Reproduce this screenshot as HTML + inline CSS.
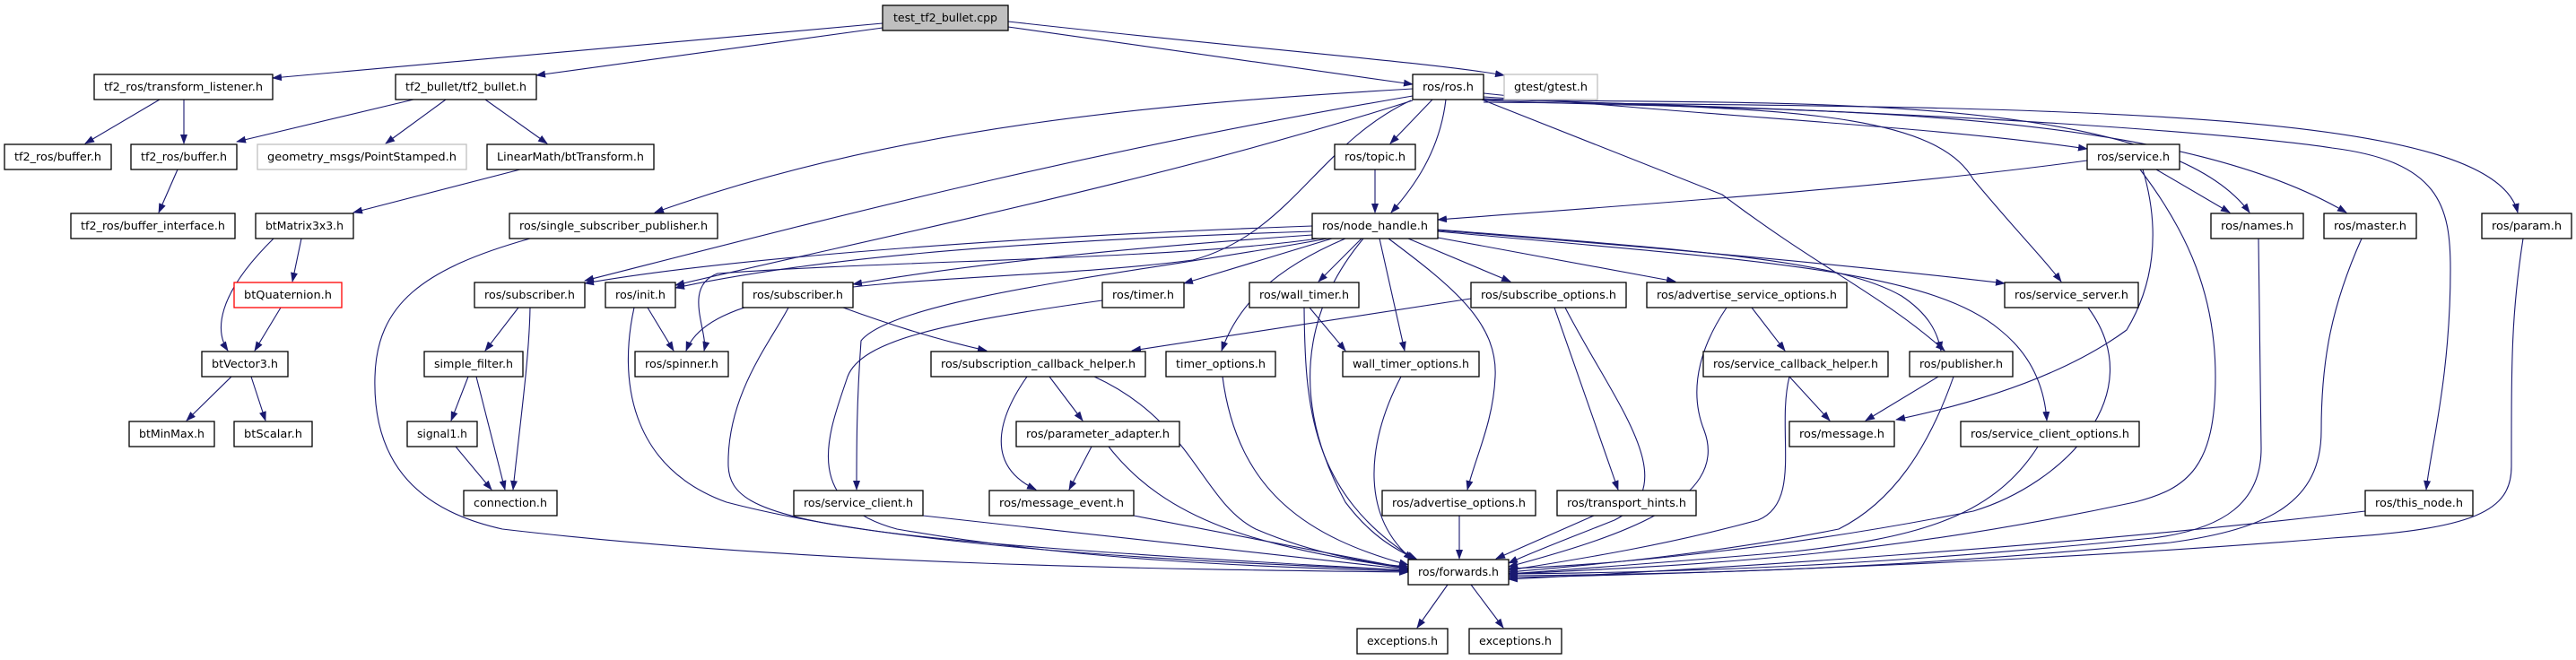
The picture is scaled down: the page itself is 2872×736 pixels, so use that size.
<!DOCTYPE html>
<html><head><meta charset="utf-8"><style>
html,body{margin:0;padding:0;background:#fff;width:2872px;height:736px;overflow:hidden}
svg text{font-family:"DejaVu Sans","Liberation Sans",sans-serif;font-size:12px;fill:#000}
</style></head><body>
<svg width="2872" height="736" viewBox="0 0 2872 736" xmlns="http://www.w3.org/2000/svg">
<defs><marker id="a" markerWidth="11" markerHeight="8" refX="10" refY="4" orient="auto" markerUnits="userSpaceOnUse"><path d="M0,0 L11,4 L0,8z" fill="#191970"/></marker></defs>
<g fill="none" stroke="#191970" stroke-width="1.1" marker-end="url(#a)">
<path d="M984,26 L304,87"/>
<path d="M984,31 L598,84"/>
<path d="M1124,30 L1575,94"/>
<path d="M1124,24 C1400,55 1600,70 1677,84"/>
<path d="M178,111 L95,160"/>
<path d="M205,111 L205,160"/>
<path d="M461,111 L264,158"/>
<path d="M497,111 L430,160"/>
<path d="M541,111 L610,160"/>
<path d="M198,189 L177,237"/>
<path d="M580,189 L394,237"/>
<path d="M336,266 L326,314"/>
<path d="M305,266 C240,330 240,370 254,391"/>
<path d="M313,343 L284,391"/>
<path d="M258,420 L208,469"/>
<path d="M280,420 L296,469"/>
<path d="M1575,99 C1300,115 1000,140 730,237"/>
<path d="M1575,107 C1200,170 900,250 652,313"/>
<path d="M1575,112 C1300,200 1000,260 753,318"/>
<path d="M1573,112 C1470,160 1440,260 1330,290 C1100,320 800,300 765,391"/>
<path d="M1597,111 L1550,160"/>
<path d="M1612,111 C1605,170 1575,210 1551,237"/>
<path d="M1533,189 L1533,237"/>
<path d="M1654,104 C1900,130 2150,140 2327,166"/>
<path d="M1654,110 C1900,120 2400,90 2508,237"/>
<path d="M1654,112 C1950,125 2400,110 2616,237"/>
<path d="M1654,114 C2300,120 2780,120 2807,237"/>
<path d="M1654,111 C2200,125 2500,150 2600,165 C2720,180 2732,230 2732,300 C2732,420 2710,500 2705,546"/>
<path d="M1654,108 C1900,125 2150,110 2200,200 C2250,260 2280,290 2298,314"/>
<path d="M1652,111 L1920,217 C2030,300 2100,330 2168,391"/>
<path d="M2327,179 C2100,210 1800,230 1603,245"/>
<path d="M2404,189 L2486,237"/>
<path d="M2389,189 C2410,260 2400,320 2371,368 C2300,420 2200,450 2114,468"/>
<path d="M2386,189 C2440,260 2470,330 2470,420 C2470,520 2440,545 2380,560 C2100,620 1900,630 1682,640"/>
<path d="M2518,266 L2521,500 C2521,560 2480,590 2400,600 C2100,630 1900,638 1682,640"/>
<path d="M2633,266 C2600,340 2588,400 2588,480 C2588,560 2530,590 2420,605 C2100,635 1900,640 1682,642"/>
<path d="M2813,266 C2800,350 2800,400 2800,520 C2800,570 2760,590 2600,600 C2300,625 1900,640 1682,644"/>
<path d="M2637,570 C2300,610 1900,635 1682,646"/>
<path d="M1463,252 C1100,265 800,290 652,316"/>
<path d="M1463,258 C1100,270 900,290 753,321"/>
<path d="M1463,262 C1200,280 1050,300 951,317"/>
<path d="M1470,266 C1300,290 1000,290 800,305 C760,320 790,370 785,391"/>
<path d="M1485,266 L1320,316"/>
<path d="M1518,266 L1470,314"/>
<path d="M1500,266 C1420,300 1380,340 1362,391"/>
<path d="M1538,266 L1566,391"/>
<path d="M1548,266 C1620,320 1670,360 1667,420 C1665,470 1645,510 1636,546"/>
<path d="M1570,266 L1684,314"/>
<path d="M1603,265 L1868,314"/>
<path d="M1603,257 C1900,280 2100,300 2235,316"/>
<path d="M1603,258 C1950,290 2150,300 2230,368 C2270,400 2280,440 2282,469"/>
<path d="M1603,256 C1900,280 2050,290 2120,330 C2150,350 2160,370 2164,391"/>
<path d="M1480,266 C1300,300 1000,330 960,380 C955,450 955,500 955,546"/>
<path d="M1520,266 C1450,350 1440,450 1500,560 C1530,600 1560,615 1580,624"/>
<path d="M578,343 L541,391"/>
<path d="M591,343 C590,400 580,470 572,546"/>
<path d="M522,420 L503,469"/>
<path d="M531,420 L563,546"/>
<path d="M508,498 L548,546"/>
<path d="M722,343 L751,391"/>
<path d="M707,343 C690,420 700,520 810,560 C1000,610 1300,625 1570,636"/>
<path d="M591,266 C470,300 420,340 418,420 C415,520 470,570 560,590 C900,630 1300,635 1570,638"/>
<path d="M940,343 C1000,365 1050,380 1100,391"/>
<path d="M879,343 C860,380 810,440 812,520 C815,580 900,600 1570,636"/>
<path d="M1229,335 C1050,360 960,380 945,420 C925,480 890,560 1000,590 C1200,625 1400,632 1570,637"/>
<path d="M1460,343 L1500,391"/>
<path d="M1454,343 C1455,450 1460,550 1578,624"/>
<path d="M1640,333 L1262,391"/>
<path d="M1733,343 L1804,546"/>
<path d="M1745,343 C1800,450 1880,540 1800,580 C1750,600 1710,615 1682,628"/>
<path d="M1953,343 L1990,391"/>
<path d="M1925,343 C1900,380 1880,430 1900,480 C1930,560 1800,600 1682,632"/>
<path d="M2328,343 C2400,440 2300,540 2200,570 C2000,610 1800,630 1682,634"/>
<path d="M1995,420 L2040,469"/>
<path d="M1995,420 C1980,480 2010,560 1960,580 C1850,610 1750,625 1682,636"/>
<path d="M2161,420 L2080,469"/>
<path d="M2178,420 C2150,500 2110,560 2050,590 C1900,620 1750,632 1682,638"/>
<path d="M2272,498 C2220,580 2130,600 2000,615 C1850,628 1750,635 1682,640"/>
<path d="M1170,420 L1207,469"/>
<path d="M1145,420 C1110,470 1100,520 1155,546"/>
<path d="M1220,420 C1330,470 1340,560 1400,590 C1470,620 1540,630 1570,632"/>
<path d="M1217,498 L1192,546"/>
<path d="M1236,498 C1300,580 1400,610 1570,634"/>
<path d="M1264,575 L1570,634"/>
<path d="M1029,575 L1570,635"/>
<path d="M1363,420 C1380,550 1460,600 1570,630"/>
<path d="M1562,420 C1520,500 1520,580 1575,624"/>
<path d="M1627,575 L1627,623"/>
<path d="M1777,575 L1668,623"/>
<path d="M1614,652 L1580,700"/>
<path d="M1640,652 L1676,700"/>
</g>
<g stroke="#000" stroke-width="1.3" fill="#fff">
<rect x="984" y="6" width="140" height="28" fill="#bfbfbf"/>
<rect x="105" y="83" width="199" height="28"/>
<rect x="441" y="83" width="157" height="28"/>
<rect x="1575" y="83" width="79" height="28"/>
<rect x="1677" y="83" width="104" height="28" stroke="#bfbfbf"/>
<rect x="5" y="161" width="119" height="28"/>
<rect x="146" y="161" width="118" height="28"/>
<rect x="287" y="161" width="233" height="28" stroke="#bfbfbf"/>
<rect x="543" y="161" width="186" height="28"/>
<rect x="1488" y="161" width="90" height="28"/>
<rect x="2327" y="161" width="103" height="28"/>
<rect x="79" y="238" width="183" height="28"/>
<rect x="285" y="238" width="109" height="28"/>
<rect x="568" y="238" width="232" height="28"/>
<rect x="1463" y="238" width="140" height="28"/>
<rect x="2465" y="238" width="103" height="28"/>
<rect x="2591" y="238" width="103" height="28"/>
<rect x="2767" y="238" width="100" height="28"/>
<rect x="261" y="315" width="120" height="28" stroke="#f00"/>
<rect x="529" y="315" width="123" height="28"/>
<rect x="675" y="315" width="78" height="28"/>
<rect x="828" y="315" width="123" height="28"/>
<rect x="1229" y="315" width="91" height="28"/>
<rect x="1393" y="315" width="122" height="28"/>
<rect x="1640" y="315" width="173" height="28"/>
<rect x="1836" y="315" width="223" height="28"/>
<rect x="2235" y="315" width="149" height="28"/>
<rect x="225" y="392" width="96" height="28"/>
<rect x="473" y="392" width="110" height="28"/>
<rect x="708" y="392" width="104" height="28"/>
<rect x="1038" y="392" width="239" height="28"/>
<rect x="1300" y="392" width="122" height="28"/>
<rect x="1497" y="392" width="152" height="28"/>
<rect x="1899" y="392" width="206" height="28"/>
<rect x="2129" y="392" width="115" height="28"/>
<rect x="144" y="470" width="95" height="28"/>
<rect x="261" y="470" width="87" height="28"/>
<rect x="454" y="470" width="78" height="28"/>
<rect x="1133" y="470" width="182" height="28"/>
<rect x="1995" y="470" width="117" height="28"/>
<rect x="2186" y="470" width="199" height="28"/>
<rect x="517" y="547" width="104" height="28"/>
<rect x="885" y="547" width="144" height="28"/>
<rect x="1103" y="547" width="161" height="28"/>
<rect x="1541" y="547" width="171" height="28"/>
<rect x="1736" y="547" width="155" height="28"/>
<rect x="2637" y="547" width="120" height="28"/>
<rect x="1570" y="624" width="112" height="28"/>
<rect x="1513" y="701" width="101" height="28"/>
<rect x="1638" y="701" width="103" height="28"/>
</g>
<g text-anchor="middle" lengthAdjust="spacingAndGlyphs">
<text x="1054" y="24" textLength="116" lengthAdjust="spacingAndGlyphs">test_tf2_bullet.cpp</text>
<text x="204.5" y="101" textLength="177" lengthAdjust="spacingAndGlyphs">tf2_ros/transform_listener.h</text>
<text x="519.5" y="101" textLength="135" lengthAdjust="spacingAndGlyphs">tf2_bullet/tf2_bullet.h</text>
<text x="1614.5" y="101" textLength="57" lengthAdjust="spacingAndGlyphs">ros/ros.h</text>
<text x="1729" y="101" textLength="82" lengthAdjust="spacingAndGlyphs">gtest/gtest.h</text>
<text x="64.5" y="179" textLength="97" lengthAdjust="spacingAndGlyphs">tf2_ros/buffer.h</text>
<text x="205" y="179" textLength="96" lengthAdjust="spacingAndGlyphs">tf2_ros/buffer.h</text>
<text x="403.5" y="179" textLength="211" lengthAdjust="spacingAndGlyphs">geometry_msgs/PointStamped.h</text>
<text x="636" y="179" textLength="164" lengthAdjust="spacingAndGlyphs">LinearMath/btTransform.h</text>
<text x="1533" y="179" textLength="68" lengthAdjust="spacingAndGlyphs">ros/topic.h</text>
<text x="2378.5" y="179" textLength="81" lengthAdjust="spacingAndGlyphs">ros/service.h</text>
<text x="170.5" y="256" textLength="161" lengthAdjust="spacingAndGlyphs">tf2_ros/buffer_interface.h</text>
<text x="339.5" y="256" textLength="87" lengthAdjust="spacingAndGlyphs">btMatrix3x3.h</text>
<text x="684" y="256" textLength="210" lengthAdjust="spacingAndGlyphs">ros/single_subscriber_publisher.h</text>
<text x="1533" y="256" textLength="118" lengthAdjust="spacingAndGlyphs">ros/node_handle.h</text>
<text x="2516.5" y="256" textLength="81" lengthAdjust="spacingAndGlyphs">ros/names.h</text>
<text x="2642.5" y="256" textLength="81" lengthAdjust="spacingAndGlyphs">ros/master.h</text>
<text x="2817" y="256" textLength="78" lengthAdjust="spacingAndGlyphs">ros/param.h</text>
<text x="321" y="333" textLength="98" lengthAdjust="spacingAndGlyphs">btQuaternion.h</text>
<text x="590.5" y="333" textLength="101" lengthAdjust="spacingAndGlyphs">ros/subscriber.h</text>
<text x="714" y="333" textLength="56" lengthAdjust="spacingAndGlyphs">ros/init.h</text>
<text x="889.5" y="333" textLength="101" lengthAdjust="spacingAndGlyphs">ros/subscriber.h</text>
<text x="1274.5" y="333" textLength="69" lengthAdjust="spacingAndGlyphs">ros/timer.h</text>
<text x="1454" y="333" textLength="100" lengthAdjust="spacingAndGlyphs">ros/wall_timer.h</text>
<text x="1726.5" y="333" textLength="151" lengthAdjust="spacingAndGlyphs">ros/subscribe_options.h</text>
<text x="1947.5" y="333" textLength="201" lengthAdjust="spacingAndGlyphs">ros/advertise_service_options.h</text>
<text x="2309.5" y="333" textLength="127" lengthAdjust="spacingAndGlyphs">ros/service_server.h</text>
<text x="273" y="410" textLength="74" lengthAdjust="spacingAndGlyphs">btVector3.h</text>
<text x="528" y="410" textLength="88" lengthAdjust="spacingAndGlyphs">simple_filter.h</text>
<text x="760" y="410" textLength="82" lengthAdjust="spacingAndGlyphs">ros/spinner.h</text>
<text x="1157.5" y="410" textLength="217" lengthAdjust="spacingAndGlyphs">ros/subscription_callback_helper.h</text>
<text x="1361" y="410" textLength="100" lengthAdjust="spacingAndGlyphs">timer_options.h</text>
<text x="1573" y="410" textLength="130" lengthAdjust="spacingAndGlyphs">wall_timer_options.h</text>
<text x="2002" y="410" textLength="184" lengthAdjust="spacingAndGlyphs">ros/service_callback_helper.h</text>
<text x="2186.5" y="410" textLength="93" lengthAdjust="spacingAndGlyphs">ros/publisher.h</text>
<text x="191.5" y="488" textLength="73" lengthAdjust="spacingAndGlyphs">btMinMax.h</text>
<text x="304.5" y="488" textLength="65" lengthAdjust="spacingAndGlyphs">btScalar.h</text>
<text x="493" y="488" textLength="56" lengthAdjust="spacingAndGlyphs">signal1.h</text>
<text x="1224" y="488" textLength="160" lengthAdjust="spacingAndGlyphs">ros/parameter_adapter.h</text>
<text x="2053.5" y="488" textLength="95" lengthAdjust="spacingAndGlyphs">ros/message.h</text>
<text x="2285.5" y="488" textLength="177" lengthAdjust="spacingAndGlyphs">ros/service_client_options.h</text>
<text x="569" y="565" textLength="82" lengthAdjust="spacingAndGlyphs">connection.h</text>
<text x="957" y="565" textLength="122" lengthAdjust="spacingAndGlyphs">ros/service_client.h</text>
<text x="1183.5" y="565" textLength="139" lengthAdjust="spacingAndGlyphs">ros/message_event.h</text>
<text x="1626.5" y="565" textLength="149" lengthAdjust="spacingAndGlyphs">ros/advertise_options.h</text>
<text x="1813.5" y="565" textLength="133" lengthAdjust="spacingAndGlyphs">ros/transport_hints.h</text>
<text x="2697" y="565" textLength="98" lengthAdjust="spacingAndGlyphs">ros/this_node.h</text>
<text x="1626" y="642" textLength="90" lengthAdjust="spacingAndGlyphs">ros/forwards.h</text>
<text x="1563.5" y="719" textLength="79" lengthAdjust="spacingAndGlyphs">exceptions.h</text>
<text x="1689.5" y="719" textLength="81" lengthAdjust="spacingAndGlyphs">exceptions.h</text>
</g>
</svg>
</body></html>
